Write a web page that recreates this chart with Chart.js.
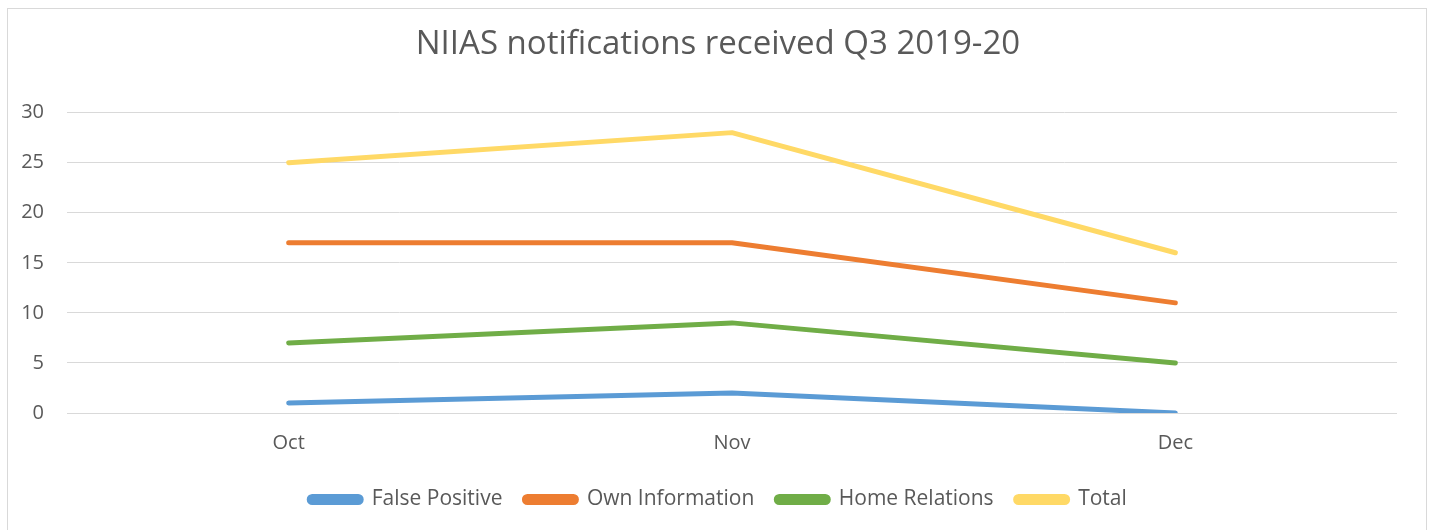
<!DOCTYPE html>
<html>
<head>
<meta charset="utf-8">
<script src="https://cdn.jsdelivr.net/npm/chart.js@4"></script>
<style>
html,body{margin:0;padding:0;background:#fff;}
#wrap{width:1432px;height:530px;position:relative;}
</style>
</head>
<body>
<div id="wrap"><canvas id="c" width="1432" height="530"></canvas></div>
<script>
const categories = ["Oct", "Nov", "Dec"];
const falsePositive = [1, 2, 0];
const ownInformation = [17, 17, 11];
const homeRelations = [7, 9, 5];
const total = [25, 28, 16];
const yTicks = [0, 5, 10, 15, 20, 25, 30];
const titleText = "NIIAS notifications received Q3 2019-20";

const FONT = "'Open Sans', 'Liberation Sans', sans-serif";
const TXT = "#595959";

const borderPlugin = {
  id: 'borderBox',
  afterLayout(chart) {
    // centre title and legend on the outer frame, like the original
    if (chart.titleBlock) { chart.titleBlock.left = 8; chart.titleBlock.right = 1428; }
    if (chart.legend) { chart.legend.left = 8; chart.legend.right = 1428; }
  },
  beforeDraw(chart) {
    const ctx = chart.ctx;
    ctx.save();
    ctx.strokeStyle = '#d9d9d9';
    ctx.lineWidth = 1;
    ctx.strokeRect(7.5, 8.5, 1419, 530);
    ctx.restore();
  }
};

function ds(label, data, color) {
  return {
    label, data,
    borderColor: color,
    backgroundColor: color,
    borderWidth: 5,
    borderCapStyle: 'round',
    borderJoinStyle: 'round',
    pointRadius: 0,
    pointHoverRadius: 0,
    tension: 0,
    fill: false
  };
}

new Chart(document.getElementById('c'), {
  type: 'line',
  data: {
    labels: categories,
    datasets: [
      ds('False Positive', falsePositive, '#5B9BD5'),
      ds('Own Information', ownInformation, '#ED7D31'),
      ds('Home Relations', homeRelations, '#70AD47'),
      ds('Total', total, '#FFD966')
    ]
  },
  options: {
    responsive: false,
    animation: false,
    devicePixelRatio: 1,
    layout: { padding: { left: 20, right: 35, top: 14, bottom: 10 } },
    plugins: {
      title: {
        display: true,
        text: titleText,
        color: TXT,
        font: { family: FONT, size: 33, weight: 'normal' },
        padding: { top: 11, bottom: 48 }
      },
      legend: {
        display: true,
        position: 'bottom',
        labels: {
          color: TXT,
          font: { family: FONT, size: 21 },
          boxWidth: 52,
          boxHeight: 6,
          useBorderRadius: true,
          borderRadius: 3,
          padding: 22
        }
      },
      tooltip: { enabled: false }
    },
    scales: {
      x: {
        offset: true,
        afterFit(scale) { scale.height = 54; },
        grid: { display: false, drawTicks: false },
        border: { display: false },
        ticks: { color: TXT, font: { family: FONT, size: 20 }, padding: 18 }
      },
      y: {
        min: 0, max: 30,
        afterBuildTicks(scale) { scale.ticks = yTicks.map(v => ({ value: v })); },
        afterFit(scale) { scale.width = 47; },
        grid: { color: '#d9d9d9', lineWidth: 1, drawTicks: false },
        border: { display: false },
        ticks: { color: TXT, font: { family: FONT, size: 20 }, padding: 23 }
      }
    }
  },
  plugins: [borderPlugin]
});
</script>
</body>
</html>
